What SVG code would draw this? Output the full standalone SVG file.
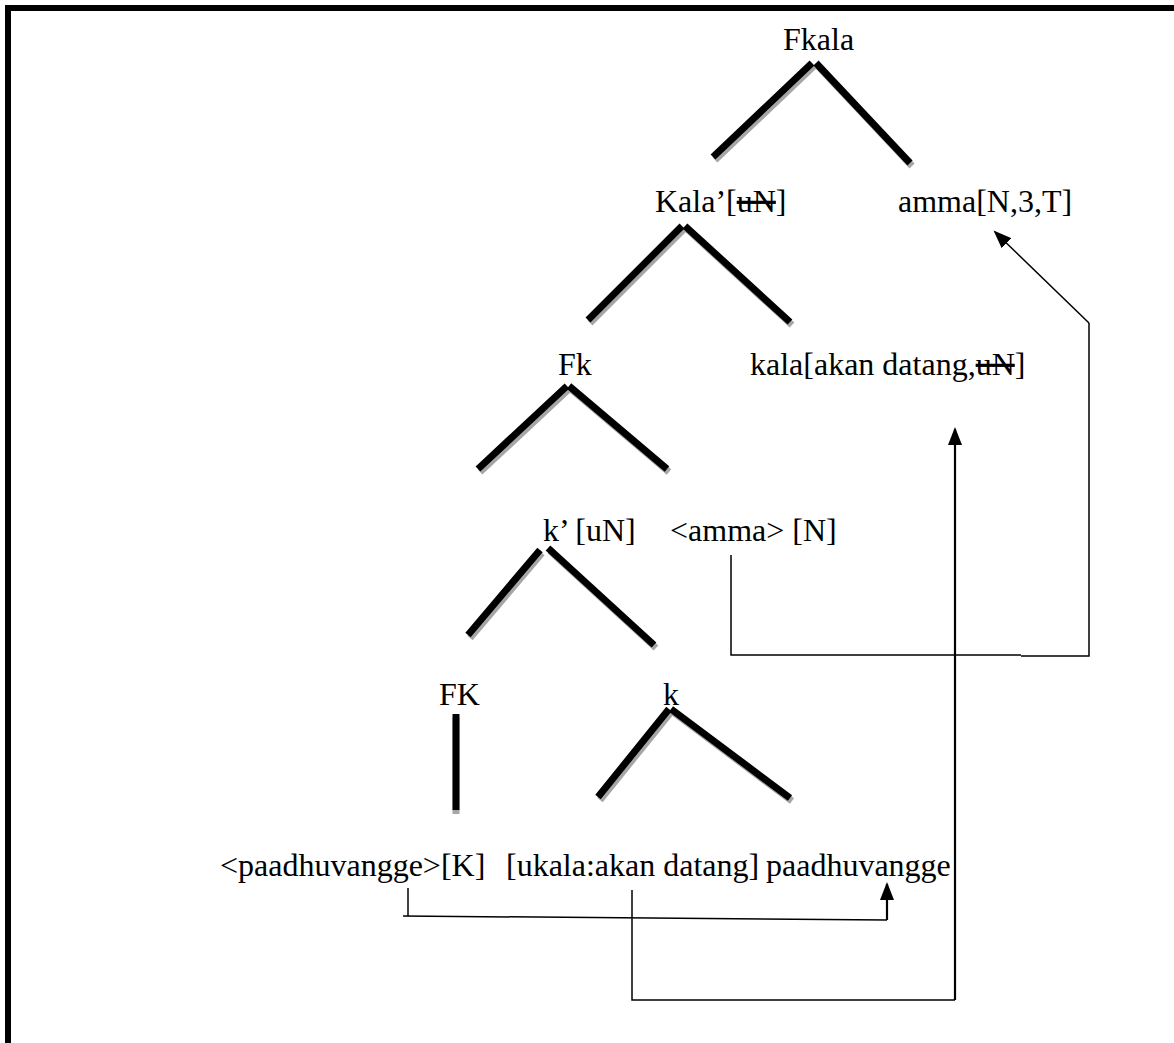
<svg xmlns="http://www.w3.org/2000/svg" width="1174" height="1043" viewBox="0 0 1174 1043">
<style>
text { font-family: "Liberation Serif", "Times New Roman", serif; font-size: 32px; fill: #000; }
.br { stroke: #000; stroke-width: 7; fill: none; stroke-linecap: butt; }
.sh { stroke: #a6a6a6; stroke-width: 7; fill: none; stroke-linecap: butt; }
.ln { stroke: #000; stroke-width: 1.5; fill: none; }
.lnb { stroke: #000; stroke-width: 2.2; fill: none; }
.frame { fill: #000; }
.strike { text-decoration: line-through; }
</style>
<defs>
<marker id="ah" markerUnits="userSpaceOnUse" markerWidth="20" markerHeight="14" refX="16" refY="7" orient="auto">
<path d="M0,0 L18,7 L0,14 z" fill="#000"/>
</marker>
<path id="e1" d="M812,63 L713,157 M816,63 L910,163"/>
<path id="e2" d="M682,226 L588,320 M685,226 L790,322"/>
<path id="e3" d="M567,386 L478,469 M569,386 L667,469"/>
<path id="e4" d="M540,550 L468,635 M548,548 L654,645"/>
<path id="e5" d="M456,714 L456,810"/>
<path id="e6" d="M669,709 L598,797 M671,709 L790,798"/>
</defs>
<rect width="1174" height="1043" fill="#fff"/>
<g id="frame">
<rect class="frame" x="5" y="5" width="1169" height="6"/>
<rect class="frame" x="5" y="5" width="6" height="1038"/>
</g>
<g id="connectors">
<g id="branches">
<use href="#e1" class="sh" transform="translate(2,3)"/><use href="#e1" class="br"/>
<use href="#e2" class="sh" transform="translate(2,3)"/><use href="#e2" class="br"/>
<use href="#e3" class="sh" transform="translate(2,3)"/><use href="#e3" class="br"/>
<use href="#e4" class="sh" transform="translate(2,3)"/><use href="#e4" class="br"/>
<use href="#e5" class="sh" transform="translate(0,4)"/><use href="#e5" class="br"/>
<use href="#e6" class="sh" transform="translate(2,3)"/><use href="#e6" class="br"/>
</g>
<g id="movement">
<path class="ln" d="M731,555 L731,655 L1021,655"/>
<path class="ln" d="M1021,656 L1089,656 L1089,323"/>
<path class="ln" d="M1089,323 L995,232" marker-end="url(#ah)"/>
<path class="ln" d="M632,890 L632,1000 L955,1000"/>
<path class="lnb" d="M955,1000 L955,429" marker-end="url(#ah)"/>
<path class="ln" d="M408,888 L408,916"/>
<path class="ln" d="M403,916 L887,920"/>
<path class="lnb" d="M887,920 L887,884" marker-end="url(#ah)"/>
</g>
</g>
<g id="n-fkala"><text x="783" y="50">Fkala</text></g>
<g id="n-kalabar"><text x="655" y="212">Kala’[<tspan class="strike">uN</tspan>]</text></g>
<g id="n-amma"><text x="898" y="212">amma[N,3,T]</text></g>
<g id="n-fk"><text x="558" y="375">Fk</text></g>
<g id="n-kala"><text x="750" y="375">kala[akan datang,<tspan class="strike">uN</tspan>]</text></g>
<g id="n-kbar"><text x="543" y="541">k’ [uN]</text></g>
<g id="n-amma-copy"><text x="670" y="541">&lt;amma&gt; [N]</text></g>
<g id="n-FK"><text x="439" y="705">FK</text></g>
<g id="n-k"><text x="663" y="705">k</text></g>
<g id="n-paadhu-copy"><text x="220" y="876">&lt;paadhuvangge&gt;[K]</text></g>
<g id="n-ukala"><text x="506" y="876">[ukala:akan datang]</text></g>
<g id="n-paadhu"><text x="766" y="876">paadhuvangge</text></g>
</svg>
